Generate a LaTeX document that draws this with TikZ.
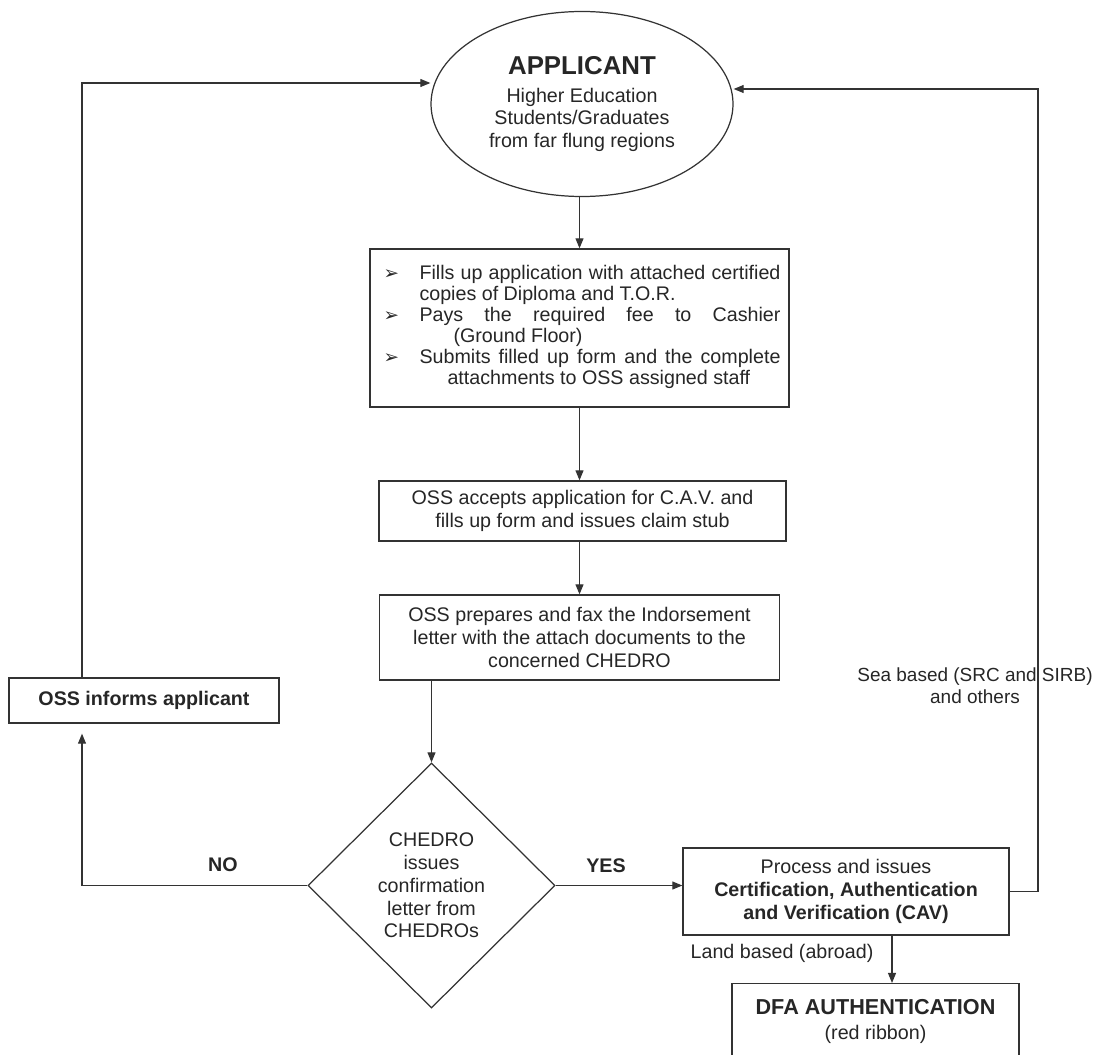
\documentclass[tikz,border=0pt]{standalone}
\usepackage{fontspec}
\setmainfont{Liberation Sans}
\newfontfamily\dingfont{DejaVu Sans}
\usetikzlibrary{shapes.geometric,arrows.meta}
\newcommand{\arw}{{\dingfont\fontsize{10.5}{10}\selectfont\char"27A2}}

\begin{document}
\fontsize{11.2}{13}\selectfont
\begin{tikzpicture}[>={Triangle[length=5.7pt,width=4.5pt]},
  box/.style={draw=black!80,line width=0.7pt,align=center,inner sep=0pt,text=black!85},
  conn/.style={draw=black!80,line width=0.7pt}]
\useasboundingbox (0,0) rectangle (21.98,-21.08);
\clip (0,0) rectangle (21.98,-21.08);

\node (AP) [box,ellipse,minimum width=6.04cm,minimum height=3.7cm] at (11.64,-2.08) {{\fontsize{14.7}{12.2}\selectfont\bfseries APPLICANT}\\[2.8pt]\fontsize{11.2}{12.2}\selectfont Higher Education\\Students/Graduates\\from far flung regions};
\node (F1) [box,minimum width=8.38cm,minimum height=3.16cm,font=\fontsize{11.2}{11.9}\selectfont] at (11.59,-6.56) {\begin{tabular}{@{\hspace{0.1cm}}p{0.72cm}@{}p{7.22cm}@{}}
\arw & \makebox[\linewidth][s]{Fills up application with attached certified}\\
 & copies of Diploma and T.O.R.\\
\arw & \makebox[\linewidth][s]{Pays the required fee to Cashier}\\
 & \hspace{0.68cm}(Ground Floor)\\
\arw & \makebox[\linewidth][s]{Submits filled up form and the complete}\\
 & \hspace{0.56cm}attachments to OSS assigned staff
\end{tabular}};
\node (F2) [box,minimum width=8.14cm,minimum height=1.2cm] at (11.65,-10.22) {OSS accepts application for C.A.V. and\\fills up form and issues claim stub};
\node (F3) [box,minimum width=8cm,minimum height=1.7cm] at (11.59,-12.75) {OSS prepares and fax the Indorsement\\letter with the attach documents to the\\concerned CHEDRO};
\node (D) [box,diamond,minimum width=4.94cm,minimum height=4.9cm] at (8.63,-17.71) {CHEDRO\\issues\\confirmation\\letter from\\CHEDROs};
\node (IN) [box,minimum width=5.4cm,minimum height=0.9cm,font=\bfseries] at (2.88,-14.01) {OSS informs applicant};
\node (CAV) [box,minimum width=6.52cm,minimum height=1.74cm] at (16.92,-17.83) {Process and issues\\\textbf{Certification, Authentication}\\\textbf{and Verification (CAV)}};
\node (DFA) [box,anchor=north,minimum width=5.74cm,inner ysep=9pt] at (17.51,-19.66) {{\fontsize{12.3}{13}\selectfont\bfseries DFA AUTHENTICATION}\\[1.2pt](red ribbon)\rule[-0.6cm]{0pt}{0.6cm}};

\node (NO) [text=black!85,font=\bfseries] at (4.46,-17.3) {NO};
\node (YES) [text=black!85,font=\bfseries] at (12.12,-17.32) {YES};
\node (LAND) [text=black!85] at (15.64,-19.06) {Land based (abroad)};
\node (SEA) [text=black!85,align=center,font=\fontsize{10.8}{12.6}\selectfont] at (19.5,-13.72) {Sea based (SRC and SIRB)\\and others};

\coordinate (L) at (1.64,-1.66);
\coordinate (R) at (20.76,-1.78);
\coordinate (K) at (17.84,-19);

\draw[conn,->] (AP.south -| F1.north) -- (F1.north);
\draw[conn,->] (F1.south) -- (F1.south |- F2.north);
\draw[conn,->] (F2.south -| F1.south) -- (F3.north -| F1.south);
\draw[conn,->] (F3.south -| D.north) -- (D.north);
\draw[conn,->] (D.east) -- (D.east -| CAV.west);
\draw[conn,->,shorten >=0.2cm] (D.west) -| (L |- IN.south);
\draw[conn,->] (L |- IN.north) -- (L) -- (L -| AP.west);
\draw[conn,->] (CAV.east) -| (R) -- (R -| AP.east);
\draw[conn,->] (K |- CAV.south) -- (K |- DFA.north);
\end{tikzpicture}
\end{document}
